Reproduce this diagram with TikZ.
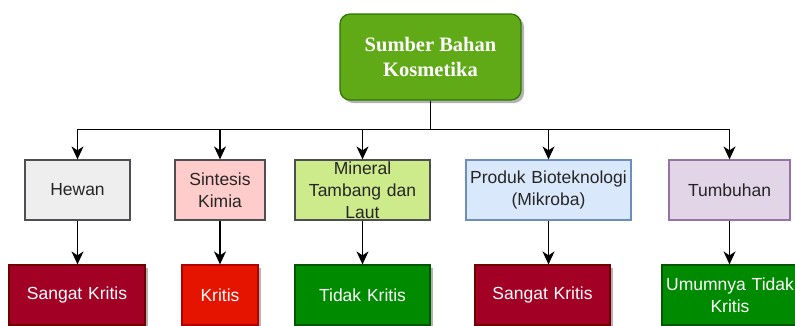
\documentclass[tikz,border=0pt]{standalone}
\usepackage{fontspec}
\setmainfont{Liberation Sans}
\newfontfamily\rootfont{Liberation Serif}
\usetikzlibrary{arrows.meta,shadows}
\definecolor{rootfill}{HTML}{60A917}
\definecolor{rootline}{HTML}{2D7600}
\definecolor{darkline}{HTML}{4D4F52}
\definecolor{hewanfill}{HTML}{EEEEEE}
\definecolor{kimiafill}{HTML}{FFCCCC}
\definecolor{mineralfill}{HTML}{CDEB8B}
\definecolor{biofill}{HTML}{DAE8FC}
\definecolor{bioline}{HTML}{6C8EBF}
\definecolor{tumbuhfill}{HTML}{E1D5E7}
\definecolor{tumbuhline}{HTML}{9673A6}
\definecolor{sangatfill}{HTML}{A20025}
\definecolor{sangatline}{HTML}{6F0000}
\definecolor{kritisfill}{HTML}{E51400}
\definecolor{kritisline}{HTML}{B20000}
\definecolor{tidakfill}{HTML}{008A00}
\definecolor{tidakline}{HTML}{005700}
\begin{document}
\begin{tikzpicture}[x=1pt,y=-1pt]
                \tikzset{
                    box/.style={draw, line width=1.2pt, inner sep=0pt, minimum height=60pt, align=center, text=black!85, font=\fontsize{17.5}{22}\selectfont},
                    level/.style={box, text=white, drop shadow={shadow xshift=3pt, shadow yshift=-3pt, fill=black!30, opacity=1}},
                    root/.style={draw=rootline, fill=rootfill, line width=1.2pt, rounded corners=10pt, inner sep=0pt, minimum width=181pt, minimum height=86pt, align=center, text=white, font=\rootfont\bfseries\fontsize{20.5}{25}\selectfont, drop shadow={shadow xshift=3pt, shadow yshift=-3pt, fill=black!30, opacity=1}},
                    arc/.style={line width=1.4pt, -{Stealth[length=13pt, width=12pt, inset=4pt]}}
                }
                \useasboundingbox (0,0) rectangle (795,325);

                \draw node[root] (sumber) at (430.5,57) {Sumber Bahan\\Kosmetika};

                \draw node[box, fill=hewanfill, draw=darkline, minimum width=105pt, text width=99pt] (hewan) at (77.5,190) {Hewan};
                \draw node[box, fill=kimiafill, draw=darkline, minimum width=90pt, text width=84pt] (kimia) at (220,190) {Sintesis\\Kimia};
                \draw node[box, fill=mineralfill, draw=darkline, minimum width=135pt, text width=131pt] (mineral) at (362.5,190) {Mineral\\Tambang dan\\Laut};
                \draw node[box, fill=biofill, draw=bioline, minimum width=165pt, text width=161pt] (bio) at (548.5,190) {Produk Bioteknologi\\(Mikroba)};
                \draw node[box, fill=tumbuhfill, draw=tumbuhline, minimum width=121pt, text width=115pt] (tumbuhan) at (729.5,190) {Tumbuhan};

                \draw node[level, fill=sangatfill, draw=sangatline, minimum width=136pt, text width=130pt] (sangatA) at (77,295) {Sangat Kritis};
                \draw node[level, fill=kritisfill, draw=kritisline, minimum width=76pt, text width=70pt] (kritis) at (220,295) {Kritis};
                \draw node[level, fill=tidakfill, draw=tidakline, minimum width=135pt, text width=129pt] (tidak) at (362.5,295) {Tidak Kritis};
                \draw node[level, fill=sangatfill, draw=sangatline, minimum width=135pt, text width=129pt] (sangatB) at (542.5,295) {Sangat Kritis};
                \draw node[level, fill=tidakfill, draw=tidakline, minimum width=136pt, text width=132pt] (umumnya) at (730,295) {Umumnya Tidak\\Kritis};

                \draw[line width=1.4pt] (sumber.south) -- ++(0,29) coordinate (bus);
                \foreach \x in {%
                    hewan,kimia,mineral,bio,tumbuhan%
                }{
                \draw[arc] (bus) -| (\x.north);
                }
                \foreach \x/\y in {%
                    hewan/sangatA,kimia/kritis,mineral/tidak,bio/sangatB,tumbuhan/umumnya%
                }{
                \draw[arc] (\x.south) -- (\x.south |- \y.north);
                }
            \end{tikzpicture}
\end{document}
